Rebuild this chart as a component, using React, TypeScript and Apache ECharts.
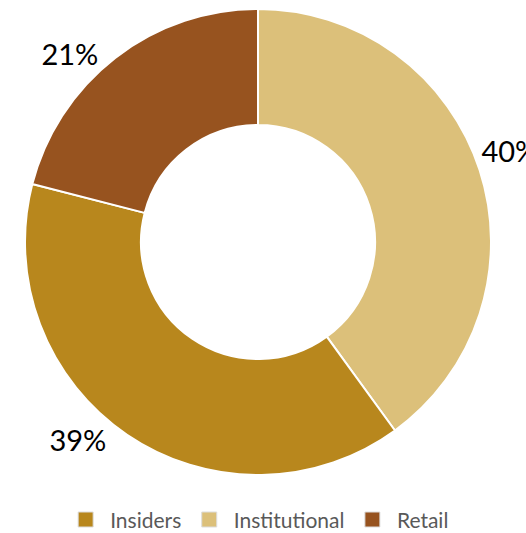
import React, { useEffect, useRef } from "react";
import * as echarts from "echarts";

const categories = ["Institutional", "Insiders", "Retail"];
const shares = [40, 39, 21];
const legendOrder = ["Insiders", "Institutional", "Retail"];
const colors = ["#dcc07a", "#b8871d", "#97531f"];

export default function App() {
  const ref = useRef<HTMLDivElement>(null);
  useEffect(() => {
    if (!ref.current) return;
    const chart = echarts.init(ref.current, undefined, { renderer: "svg" });
    const labelShift = [
      { dx: -1, dy: -19 },
      { dx: -19, dy: 2 },
      { dx: -15, dy: -2 },
    ];
    chart.setOption({
      animation: false,
      backgroundColor: "#ffffff",
      legend: {
        data: legendOrder,
        top: 509,
        left: "center",
        padding: [0, 5, 0, 5],
        itemWidth: 15,
        itemHeight: 15,
        itemGap: 20,
        icon: "rect",
        itemStyle: { borderColor: "#dddddd", borderWidth: 1 },
        textStyle: {
          fontFamily: "Lato",
          fontSize: 21,
          color: "#595959",
          padding: [0, 0, 0, 12],
        },
      },
      series: [
        {
          type: "pie",
          center: [258, 242],
          radius: [117, 233],
          startAngle: 90,
          clockwise: true,
          avoidLabelOverlap: false,
          itemStyle: { borderColor: "#ffffff", borderWidth: 2 },
          emphasis: { disabled: true },
          label: {
            show: true,
            position: "outside",
            formatter: "{c}%",
            fontFamily: "Lato",
            fontSize: 29,
            color: "#000000",
            distanceToLabelLine: 0,
          },
          labelLine: { show: false, length: 3, length2: 0 },
          labelLayout: (p: any) => labelShift[p.dataIndex],
          data: categories.map((name, i) => ({
            name,
            value: shares[i],
            itemStyle: { color: colors[i] },
          })),
        },
      ],
    });
    return () => chart.dispose();
  }, []);
  return (
    <div
      ref={ref}
      style={{ position: "fixed", left: 0, top: 0, width: 526, height: 533 }}
    />
  );
}
